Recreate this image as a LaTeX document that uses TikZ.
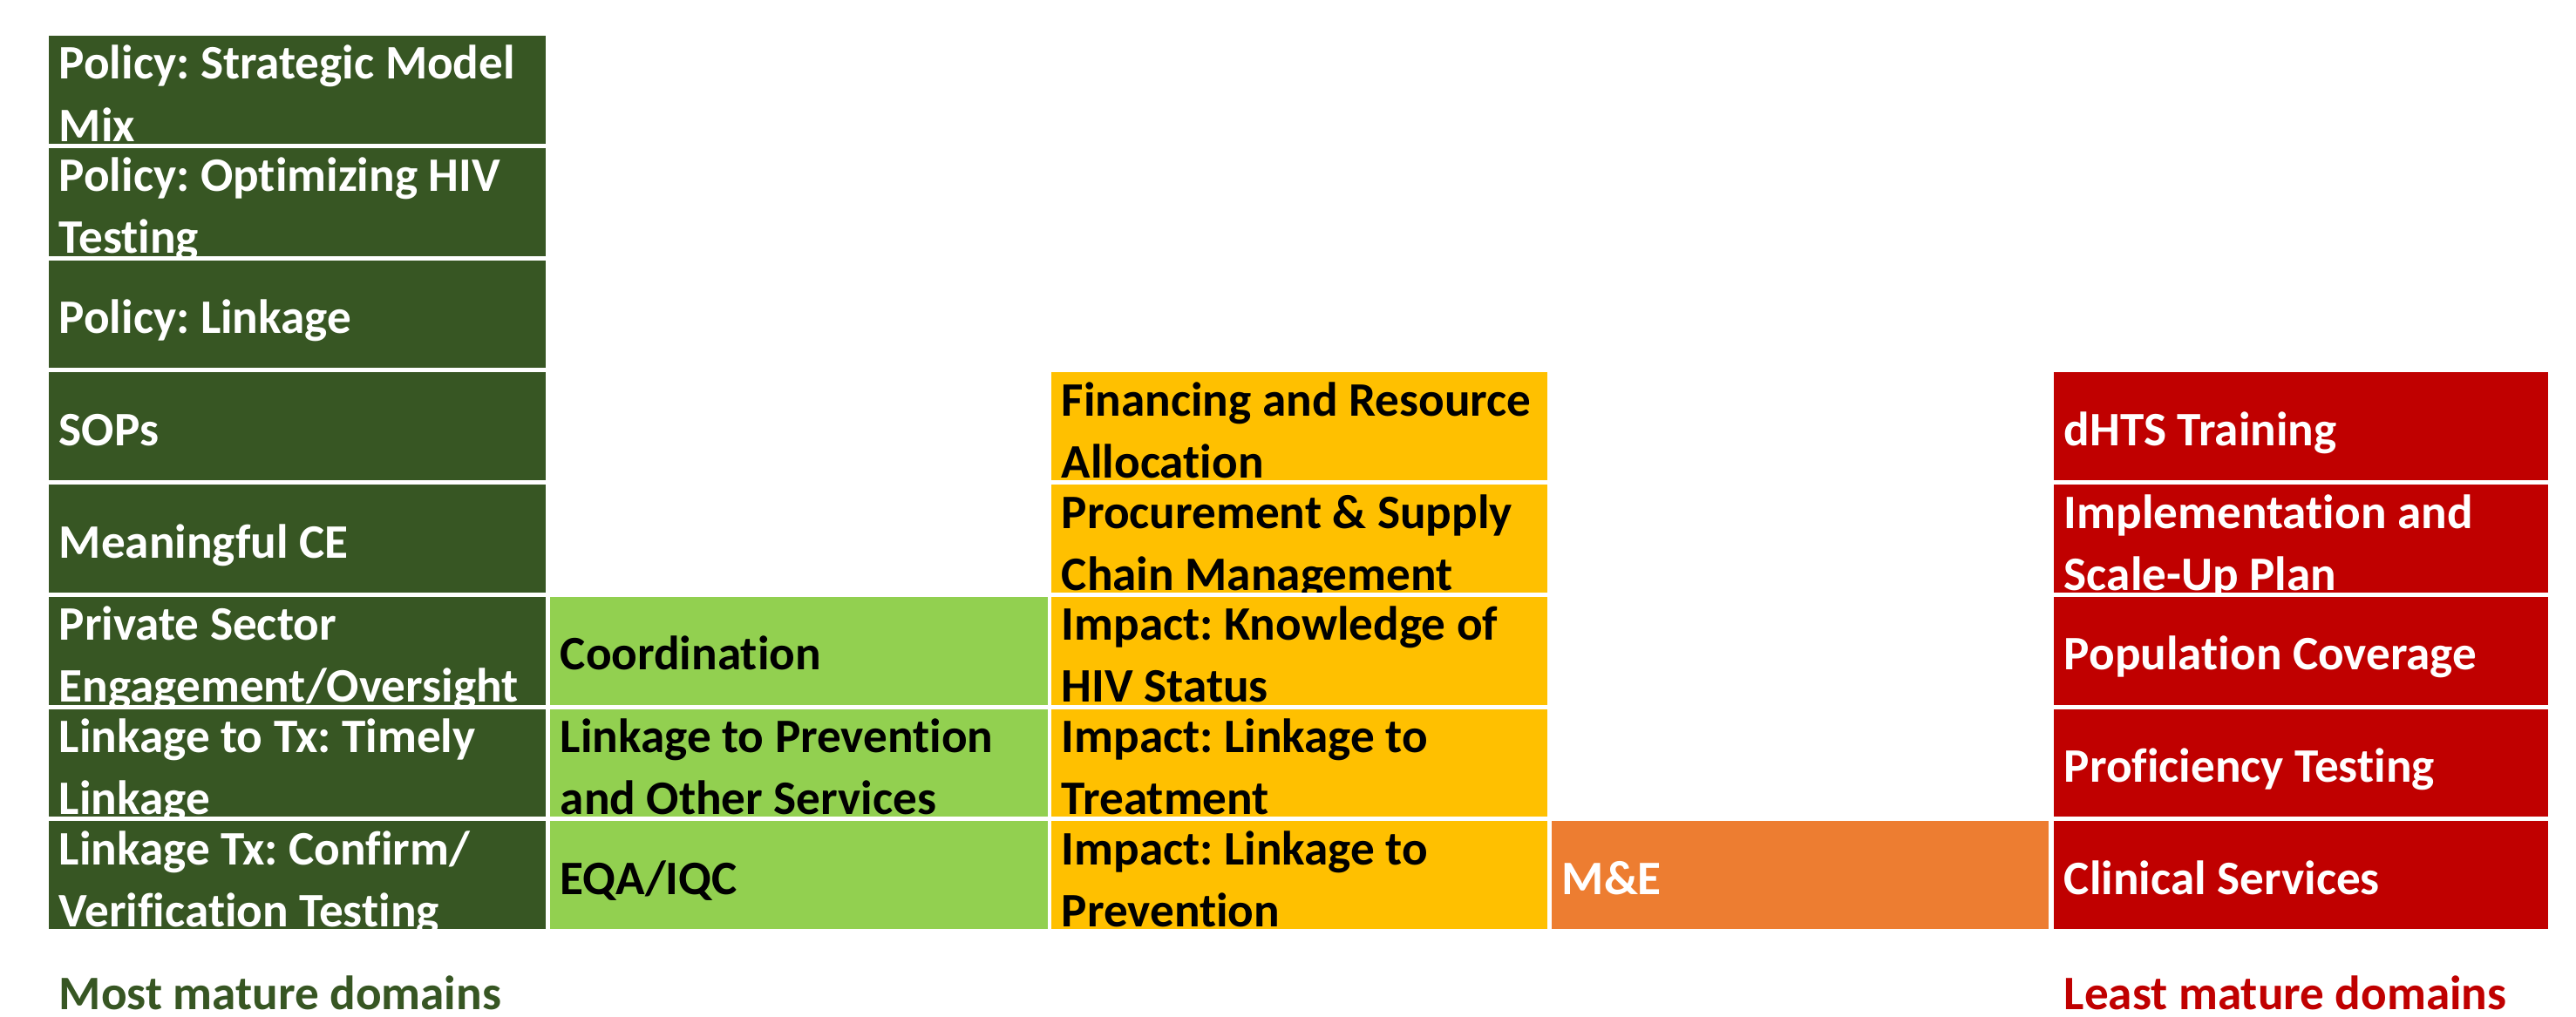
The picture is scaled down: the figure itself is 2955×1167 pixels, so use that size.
\documentclass[tikz,border=0pt]{standalone}
\usepackage{fontspec}
\setmainfont{Carlito}[Ligatures=NoCommon]
\usepackage{xcolor}
\frenchspacing

\definecolor{darkgreen}{HTML}{375623}
\definecolor{lightgreen}{HTML}{92D050}
\definecolor{amber}{HTML}{FFC000}
\definecolor{orangeme}{HTML}{ED7D31}
\definecolor{darkred}{HTML}{C00000}

\tikzset{
  celltext/.style={anchor=base west, align=left, inner sep=0pt,
    font=\bfseries\fontsize{13.8}{17.75}\selectfont},
}

\begin{document}
\begin{tikzpicture}[x=0.25pt, y=-0.25pt]
    \useasboundingbox (0,0) rectangle (2955,1167);

    % Most mature column
    \foreach \r/\dy/\txt in {1/121/{Policy: Strategic Model\\Mix},
        2/121/{Policy: Optimizing HIV\\Testing}, 3/84/{Policy: Linkage},
        4/84/{SOPs}, 5/84/{Meaningful CE},
        6/121/{Private Sector\\Engagement/Oversight},
        7/121/{Linkage to Tx: Timely\\Linkage},
        8/121/{Linkage Tx: Confirm/\\Verification Testing}}{
      \pgfmathsetmacro{\rowtop}{41+(\r-1)*128.75}
      \begin{scope}
        \clip (56,\rowtop) rectangle (626,\rowtop+123.75);
        \fill[darkgreen] (56,\rowtop) rectangle (626,\rowtop+123.75);
        \node[celltext, text=white] (green\r) at (67,\rowtop+\dy) {\txt};
      \end{scope}
    }

    % Second column
    \foreach \r/\dy/\txt in {6/84/{Coordination},
        7/121/{Linkage to Prevention\\and Other Services}, 8/84/{EQA/IQC}}{
      \pgfmathsetmacro{\rowtop}{41+(\r-1)*128.75}
      \begin{scope}
        \clip (631,\rowtop) rectangle (1202,\rowtop+123.75);
        \fill[lightgreen] (631,\rowtop) rectangle (1202,\rowtop+123.75);
        \node[celltext, text=black] (lime\r) at (642,\rowtop+\dy) {\txt};
      \end{scope}
    }

    % Middle column
    \foreach \r/\dy/\txt in {4/121/{Financing and Resource\\Allocation},
        5/121/{Procurement \& Supply\\Chain Management},
        6/121/{Impact: Knowledge of\\HIV Status},
        7/121/{Impact: Linkage to\\Treatment},
        8/121/{Impact: Linkage to\\Prevention}}{
      \pgfmathsetmacro{\rowtop}{41+(\r-1)*128.75}
      \begin{scope}
        \clip (1206,\rowtop) rectangle (1775,\rowtop+123.75);
        \fill[amber] (1206,\rowtop) rectangle (1775,\rowtop+123.75);
        \node[celltext, text=black] (amber\r) at (1217,\rowtop+\dy) {\txt};
      \end{scope}
    }

    % M&E
    \fill[orangeme] (1780,942.25) rectangle (2350,1066);
    \node[celltext, text=white] (me) at (1791,1026.25) {M\&E};

    % Least mature column
    \foreach \r/\dy/\txt in {4/84/{dHTS Training},
        5/121/{Implementation and\\Scale-Up Plan},
        6/84/{Population Coverage}, 7/84/{Proficiency Testing},
        8/84/{Clinical Services}}{
      \pgfmathsetmacro{\rowtop}{41+(\r-1)*128.75}
      \begin{scope}
        \clip (2356,\rowtop) rectangle (2923,\rowtop+123.75);
        \fill[darkred] (2356,\rowtop) rectangle (2923,\rowtop+123.75);
        \node[celltext, text=white] (red\r) at (2367,\rowtop+\dy) {\txt};
      \end{scope}
    }

    % Legend
    \node[celltext, text=darkgreen] (most) at (67,1158) {Most mature domains};
    \node[celltext, text=darkred] (least) at (2367,1158) {Least mature domains};
\end{tikzpicture}
\end{document}
